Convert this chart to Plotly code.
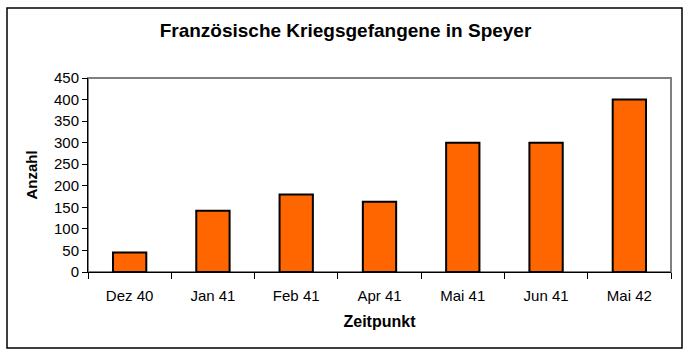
import plotly.graph_objects as go

categories = ["Dez 40", "Jan 41", "Feb 41", "Apr 41", "Mai 41", "Jun 41", "Mai 42"]
values = [45, 142, 180, 163, 300, 300, 400]
y_ticks = [0, 50, 100, 150, 200, 250, 300, 350, 400, 450]

FONT = "Liberation Sans, Arial, sans-serif"

fig = go.Figure(
    go.Bar(
        x=categories,
        y=values,
        marker=dict(color="#FF6600", line=dict(color="#000000", width=2)),
    )
)

W, H = 691, 356
L, R, T, B = 88, 20, 78, 84

fig.update_layout(
    width=W,
    height=H,
    margin=dict(l=L, r=R, t=T, b=B, autoexpand=False),
    paper_bgcolor="white",
    plot_bgcolor="white",
    bargap=0.6,
    showlegend=False,
    font=dict(family=FONT, size=15, color="black"),
    title=dict(
        text="<b>Französische Kriegsgefangene in Speyer</b>",
        x=0.5,
        xanchor="center",
        y=1 - 30 / H,
        yanchor="middle",
        yref="container",
        font=dict(family=FONT, size=19, color="black"),
    ),
    xaxis=dict(
        tickson="boundaries",
        ticks="outside",
        ticklen=6,
        tickcolor="black",
        ticklabelstandoff=10,
        showline=True,
        linecolor="black",
        linewidth=1,
        showgrid=False,
        automargin=False,
        tickfont=dict(size=15),
        title=dict(text="<b>Zeitpunkt</b>", font=dict(size=16), standoff=12),
    ),
    yaxis=dict(
        range=[0, 450],
        tickvals=y_ticks,
        ticktext=[str(v) for v in y_ticks],
        ticks="outside",
        ticklen=5,
        tickcolor="black",
        showline=True,
        linecolor="black",
        linewidth=1,
        showgrid=False,
        zeroline=False,
        automargin=False,
        tickfont=dict(size=15),
        title=dict(text="<b>Anzahl</b>", font=dict(size=15), standoff=12),
    ),
    shapes=[
        dict(
            type="rect", xref="paper", yref="paper",
            x0=0, x1=1, y0=0, y1=1,
            line=dict(color="#808080", width=2), layer="below",
        ),
        dict(
            type="rect", xref="paper", yref="paper",
            x0=(7 - L) / (W - L - R), x1=(682 - L) / (W - L - R),
            y0=(H - B - 348) / (H - T - B), y1=(H - B - 8) / (H - T - B),
            line=dict(color="black", width=1.5), layer="above",
        ),
    ],
)

fig.write_html(
    "out.html",
    config={"displayModeBar": False},
    post_script="document.body.style.margin='0';document.body.style.overflow='hidden';",
)
